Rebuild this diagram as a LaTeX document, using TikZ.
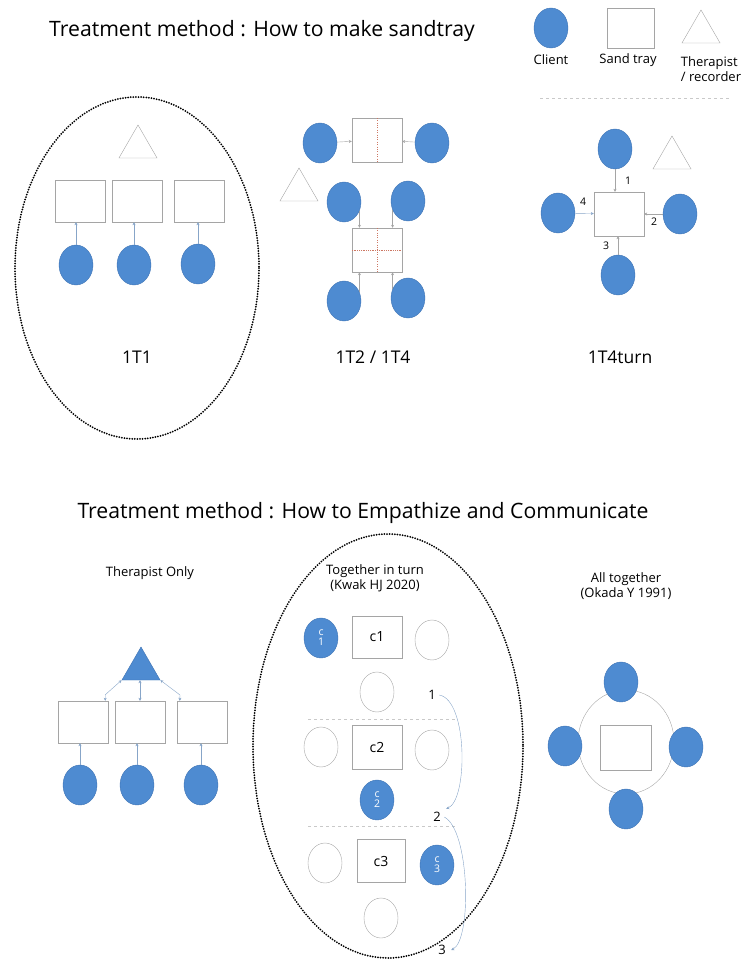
\documentclass[tikz,border=0pt]{standalone}
\usepackage{fontspec}
\setmainfont{Open Sans}
\usetikzlibrary{shapes.geometric, arrows.meta, positioning}
\definecolor{clientblue}{RGB}{78,139,209}
\definecolor{clientedge}{RGB}{62,115,180}
\definecolor{traygray}{RGB}{165,165,165}
\definecolor{linkblue}{RGB}{135,165,200}
\definecolor{splitred}{RGB}{205,120,100}

\begin{document}
\begin{tikzpicture}[
    x=1pt, y=-1pt,
    client/.style = {ellipse, draw=clientedge, fill=clientblue, minimum width=34pt, minimum height=40pt, inner sep=0pt, text=white, align=center, font=\fontsize{10.5}{10}\selectfont},
    seat/.style = {ellipse, draw=traygray, minimum width=34pt, minimum height=40pt, inner sep=0pt},
    tray/.style = {rectangle, draw=traygray, minimum width=50pt, minimum height=42pt, inner sep=0pt, font=\fontsize{14}{14}\selectfont},
    therapist/.style = {regular polygon, regular polygon sides=3, draw=traygray, minimum size=44pt, inner sep=0pt},
    link/.style = {-{Stealth[length=3pt, width=3pt]}, linkblue},
    twolink/.style = {{Stealth[length=3pt, width=3pt]}-{Stealth[length=3pt, width=3pt]}, linkblue},
    group/.style = {draw, line width=2pt, line cap=round, dash pattern=on 0pt off 2.6pt},
    heading/.style = {font=\fontsize{21.2}{25}\selectfont},
    caption/.style = {font=\fontsize{17.5}{20}\selectfont},
    small/.style = {font=\fontsize{13}{15}\selectfont, align=center},
    turn/.style = {font=\fontsize{10.5}{10}\selectfont, inner sep=1pt}
]
\useasboundingbox (0,0) rectangle (741,961);

% top part
\node [heading] (title1) at (262,31) {Treatment method : How to make sandtray};

\node [client] (keyc) at (551,28) {};
\node [tray, minimum width=47pt, minimum height=40pt] (keyt) at (631,28) {};
\node [therapist] (keyr) at (701,32) {};
\node [small] (keyctext) at (551,60) {Client};
\node [small] (keyttext) at (628,60) {Sand tray};
\node [small, align=left] (keyrtext) at (711,69) {Therapist\\/ recorder};
\draw [traygray!60, dashed] (540,98) -- (730,98);

\draw [group] (137,268) ellipse [x radius=122, y radius=171];
\node [therapist] (r11) at (138,147) {};
\node [tray] (t11) at (80,201) {};
\node [tray] (t12) at (137,201) {};
\node [tray] (t13) at (199,201) {};
\node [client] (c11) at (76,265) {};
\node [client] (c12) at (134,265) {};
\node [client] (c13) at (198,264) {};
\draw [link] (c11.north) -- (c11.north |- t11.south);
\draw [link] (c12.north) -- (c12.north |- t12.south);
\draw [link] (c13.north) -- (c13.north |- t13.south);
\node [caption] (cap1) at (137,357) {1T1};

\node [tray, minimum height=44pt] (t2a) at (377,140) {};
\node [tray, minimum height=44pt] (t2b) at (377,250) {};
\draw [splitred, dotted] (t2a.north) -- (t2a.south);
\draw [splitred, dotted] (t2b.north) -- (t2b.south);
\draw [splitred, densely dotted, thick] (t2b.west) -- (t2b.east);
\node [client] (c2a) at (320,143) {};
\node [client] (c2b) at (432,143) {};
\node [therapist] (r2) at (299,190) {};
\node [client] (c2c) at (344,202) {};
\node [client] (c2d) at (408,201) {};
\node [client] (c2e) at (344,301) {};
\node [client] (c2f) at (408,298) {};
\draw [link, traygray] (c2a) -- (t2a);
\draw [link, traygray] (c2b) -- (t2a);
\draw [link, traygray] (c2c.-30) -- (c2c.-30 |- t2b.north);
\draw [link, traygray] (c2d.-150) -- (c2d.-150 |- t2b.north);
\draw [link, traygray] (c2e.30) -- (c2e.30 |- t2b.south);
\draw [link, traygray] (c2f.150) -- (c2f.150 |- t2b.south);
\node [caption] (cap2) at (373,357) {1T2 / 1T4};

\node [tray, minimum height=44pt] (t4) at (619,214) {};
\node [client] (c4a) at (615,149) {};
\node [client] (c4b) at (680,214) {};
\node [client] (c4c) at (618,275) {};
\node [client] (c4d) at (558,213) {};
\node [therapist] (r4) at (672,158) {};
\draw [link, traygray] (c4a.south) -- (c4a.south |- t4.north);
\draw [link, traygray] (c4b) -- (t4);
\draw [link, traygray] (c4c.north) -- (c4c.north |- t4.south);
\draw [link, linkblue] (c4d) -- (t4);
\node [turn] (n4a) at (628,181) {1};
\node [turn] (n4b) at (654,222) {2};
\node [turn] (n4c) at (606,246) {3};
\node [turn] (n4d) at (583,202) {4};
\node [caption] (cap3) at (620,357) {1T4turn};

% bottom part
\node [heading] (title2) at (363,513) {Treatment method : How to Empathize and Communicate};

\node [small] (head1) at (150,573) {Therapist Only};
\node [therapist, fill=clientblue, draw=clientedge] (rb) at (141,669) {};
\node [tray] (tb1) at (83,722) {};
\node [tray] (tb2) at (140,722) {};
\node [tray] (tb3) at (202,722) {};
\node [client] (cb1) at (80,785) {};
\node [client] (cb2) at (137,785) {};
\node [client] (cb3) at (201,785) {};
\draw [link] (cb1.north) -- (cb1.north |- tb1.south);
\draw [link] (cb2.north) -- (cb2.north |- tb2.south);
\draw [link] (cb3.north) -- (cb3.north |- tb3.south);
\draw [twolink] ([xshift=-3pt]tb1.north east) -- ++(0,-6) -- (rb.corner 2);
\draw [twolink] (tb2.north) -- (tb2.north |- rb.south);
\draw [twolink] (rb.corner 3) -- (180,695) -- ([xshift=3pt]tb3.north west);

\draw [group] (388,746) ellipse [x radius=135, y radius=212];
\node [small] (head2) at (375,578) {Together in turn\\(Kwak HJ 2020)};
\node [client] (k1) at (321,638) {c\\1};
\node [tray] (kt1) at (377,637) {c1};
\node [seat] (k1b) at (432,640) {};
\node [seat] (k1c) at (377,692) {};
\draw [traygray!60, dashed] (308,719) -- (455,719);
\node [seat] (k2a) at (321,747) {};
\node [tray, minimum height=44pt] (kt2) at (377,747) {c2};
\node [seat] (k2b) at (432,750) {};
\node [client] (k2) at (377,800) {c\\2};
\draw [traygray!60, dashed] (308,826) -- (455,826);
\node [seat] (k3a) at (325,863) {};
\node [tray, minimum width=48pt, minimum height=43pt] (kt3) at (381,861) {c3};
\node [client] (k3) at (437,865) {c\\3};
\node [seat] (k3b) at (381,918) {};
\node [small] (s1) at (432,695) {1};
\node [small] (s2) at (437,817) {2};
\node [small] (s3) at (442,950) {3};
\draw [link] (s1.east) .. controls (468,700) and (468,800) .. ([xshift=2pt]s2.north east);
\draw [link] (s2.east) .. controls (470,830) and (472,940) .. ([xshift=2pt]s3.east);

\node [small] (head3) at (626,586) {All together\\(Okada Y 1991)};
\node [ellipse, draw=traygray, minimum width=96pt, minimum height=104pt] (ring) at (626,742) {};
\node [tray, minimum width=51pt, minimum height=45pt] (ta) at (626,748) {};
\node [client] (ca1) at (621,682) {};
\node [client] (ca2) at (686,747) {};
\node [client] (ca3) at (626,809) {};
\node [client] (ca4) at (565,746) {};

\end{tikzpicture}
\end{document}
